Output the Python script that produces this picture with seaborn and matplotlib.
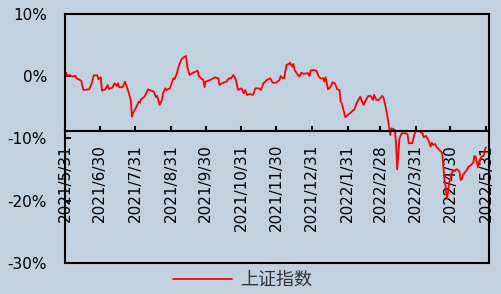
import matplotlib
matplotlib.use('Agg')
import matplotlib.pyplot as plt
import seaborn as sns
import pandas as pd

# ---------------- data ----------------
series_name = '上证指数'

dates = [
    '2021-05-31', '2021-06-01', '2021-06-02', '2021-06-04', '2021-06-07', '2021-06-09', '2021-06-10',
    '2021-06-14', '2021-06-16', '2021-06-21', '2021-06-23', '2021-06-25', '2021-06-28', '2021-06-29',
    '2021-07-01', '2021-07-02', '2021-07-05', '2021-07-07', '2021-07-08', '2021-07-11', '2021-07-13',
    '2021-07-15', '2021-07-16', '2021-07-17', '2021-07-20', '2021-07-22', '2021-07-25', '2021-07-27',
    '2021-07-28', '2021-07-29', '2021-08-01', '2021-08-03', '2021-08-04', '2021-08-05', '2021-08-08',
    '2021-08-11', '2021-08-14', '2021-08-16', '2021-08-18', '2021-08-19', '2021-08-21', '2021-08-23',
    '2021-08-24', '2021-08-26', '2021-08-27', '2021-08-30', '2021-09-02', '2021-09-03', '2021-09-05',
    '2021-09-07', '2021-09-09', '2021-09-11', '2021-09-13', '2021-09-14', '2021-09-16', '2021-09-19',
    '2021-09-23', '2021-09-24', '2021-09-26', '2021-09-28', '2021-09-29', '2021-09-30', '2021-10-04',
    '2021-10-08', '2021-10-11', '2021-10-12', '2021-10-15', '2021-10-18', '2021-10-20', '2021-10-22',
    '2021-10-24', '2021-10-26', '2021-10-28', '2021-10-31', '2021-11-02', '2021-11-03', '2021-11-05',
    '2021-11-07', '2021-11-10', '2021-11-12', '2021-11-15', '2021-11-17', '2021-11-19', '2021-11-22',
    '2021-11-25', '2021-11-27', '2021-11-30', '2021-12-03', '2021-12-04', '2021-12-06', '2021-12-07',
    '2021-12-09', '2021-12-11', '2021-12-12', '2021-12-14', '2021-12-15', '2021-12-16', '2021-12-18',
    '2021-12-20', '2021-12-22', '2021-12-24', '2021-12-26', '2021-12-28', '2021-12-29', '2021-12-30',
    '2022-01-01', '2022-01-04', '2022-01-06', '2022-01-08', '2022-01-10', '2022-01-11', '2022-01-12',
    '2022-01-14', '2022-01-16', '2022-01-18', '2022-01-20', '2022-01-22', '2022-01-24', '2022-01-25',
    '2022-01-26', '2022-01-29', '2022-02-01', '2022-02-06', '2022-02-08', '2022-02-11', '2022-02-12',
    '2022-02-14', '2022-02-15', '2022-02-18', '2022-02-20', '2022-02-22', '2022-02-23', '2022-02-25',
    '2022-02-27', '2022-03-02', '2022-03-03', '2022-03-05', '2022-03-07', '2022-03-09', '2022-03-10',
    '2022-03-12', '2022-03-13', '2022-03-14', '2022-03-15', '2022-03-17', '2022-03-19', '2022-03-22',
    '2022-03-24', '2022-03-25', '2022-03-28', '2022-03-30', '2022-03-31', '2022-04-04', '2022-04-06',
    '2022-04-07', '2022-04-09', '2022-04-11', '2022-04-13', '2022-04-14', '2022-04-15', '2022-04-17',
    '2022-04-18', '2022-04-20', '2022-04-22', '2022-04-23', '2022-04-24', '2022-04-25', '2022-04-26',
    '2022-04-27', '2022-04-28', '2022-04-29', '2022-04-30', '2022-05-01', '2022-05-03', '2022-05-06',
    '2022-05-08', '2022-05-09', '2022-05-10', '2022-05-11', '2022-05-14', '2022-05-16', '2022-05-18',
    '2022-05-20', '2022-05-21', '2022-05-22', '2022-05-24', '2022-05-25', '2022-05-27', '2022-05-29',
    '2022-05-30', '2022-05-31',
]

values = [
    0.00, 0.56, 0.03, 0.19, -0.08, 0.08, -0.34,
    -0.72, -2.22, -2.11, -1.25, 0.14, 0.14, -0.50,
    -0.18, -2.33, -2.11, -1.41, -2.06, -1.85, -1.14,
    -1.58, -1.14, -1.78, -1.78, -0.88, -2.49, -3.83,
    -6.51, -5.96, -4.90, -4.10, -4.26, -3.71, -3.30,
    -2.11, -2.33, -2.49, -3.39, -3.18, -4.63, -3.83,
    -2.75, -1.95, -2.22, -1.95, -0.34, -0.50, 0.47,
    1.80, 2.72, 3.04, 3.25, 1.53, 0.19, 0.56,
    0.88, 0.03, -0.34, -0.61, -1.78, -0.88, -0.61,
    -0.18, -0.34, -1.41, -1.05, -0.88, -0.34, -0.34,
    0.19, -0.50, -2.22, -1.95, -2.75, -2.22, -3.02,
    -2.86, -3.02, -1.95, -1.95, -2.22, -1.14, -0.61,
    -0.34, -1.05, -1.05, -0.61, 0.03, -0.34, -0.34,
    1.80, 1.96, 2.17, 1.53, 1.96, 1.00, 0.47,
    -0.08, 0.56, 0.35, 0.47, 0.47, 0.03, 0.88,
    1.00, 0.88, -0.08, -0.40, -0.34, -0.88, -0.18,
    -2.11, -1.78, -0.98, -1.14, -2.11, -2.22, -4.10,
    -4.36, -6.61, -6.13, -5.32, -4.26, -3.30, -3.83,
    -4.63, -4.10, -3.18, -3.18, -3.83, -3.02, -3.83,
    -3.83, -3.18, -3.39, -4.90, -7.04, -9.45, -8.38,
    -8.54, -8.65, -10.79, -15.00, -9.98, -9.18, -9.18,
    -9.34, -10.79, -10.79, -9.29, -8.76, -8.92, -9.18,
    -9.82, -9.61, -10.26, -11.33, -10.69, -11.06, -10.90,
    -11.33, -11.75, -12.14, -12.40, -14.55, -16.58, -17.77,
    -19.75, -18.83, -17.12, -16.69, -15.61, -15.19, -14.97,
    -15.35, -16.69, -16.58, -15.88, -15.19, -14.55, -14.28,
    -13.91, -12.83, -12.94, -14.65, -13.75, -12.94, -12.83,
    -11.86, -11.43,
]

tick_dates = ['2021-05-31', '2021-06-30', '2021-07-31', '2021-08-31', '2021-09-30',
              '2021-10-31', '2021-11-30', '2021-12-31', '2022-01-31', '2022-02-28',
              '2022-03-31', '2022-04-30', '2022-05-31']
tick_labels = ['2021/5/31', '2021/6/30', '2021/7/31', '2021/8/31', '2021/9/30',
               '2021/10/31', '2021/11/30', '2021/12/31', '2022/1/31', '2022/2/28',
               '2022/3/31', '2022/4/30', '2022/5/31']
y_ticks = [10, 0, -10, -20, -30]
y_labels = ['10%', '0%', '-10%', '-20%', '-30%']

# ---------------- style ----------------
sns.set_theme(style='white')
plt.rcParams['font.family'] = ['DejaVu Sans', 'Noto Sans CJK SC']
bg = '#C2D1E0'

W, H = 501, 294
fig = plt.figure(figsize=(W / 100, H / 100), dpi=100, facecolor=bg)
ax = fig.add_axes([65 / W, 1 - 262.7 / H, (489 - 65) / W, (262.7 - 14) / H])
ax.set_facecolor(bg)

df = pd.DataFrame({'date': pd.to_datetime(dates), 'value': values, 'series': series_name})
sns.lineplot(data=df, x='date', y='value', hue='series', palette=['#FF0000'],
             linewidth=1.3, ax=ax, legend=False, zorder=2)

ax.set_xlim(pd.Timestamp('2021-05-31'), pd.Timestamp('2021-05-31') + pd.Timedelta(days=367.6))
ax.set_ylim(-30, 10)
ax.set_xlabel('')
ax.set_ylabel('')

ax.set_yticks(y_ticks)
ax.set_yticklabels(y_labels)
ax.set_xticks(pd.to_datetime(tick_dates))
ax.set_xticklabels(tick_labels)

for s in ax.spines.values():
    s.set_visible(True)
    s.set_color('black')
    s.set_linewidth(1.5)
ax.spines['bottom'].set_position(('data', -8.76))
ax.axhline(-30, color='black', linewidth=1.5, clip_on=False, zorder=3)

ax.tick_params(axis='y', direction='in', length=4, width=1.3, pad=13,
               labelsize=11, colors='black', left=True)
ax.tick_params(axis='x', direction='in', length=3.6, width=1.5, pad=9.6,
               labelsize=11, colors='black', bottom=True, labelrotation=90)
for lab in ax.get_xticklabels():
    lab.set_rotation(90)

# legend
handle = plt.Line2D([], [], color='#FF0000', linewidth=1.3)
leg = fig.legend([handle], [series_name], loc='center',
                 bbox_to_anchor=(242.5 / W, 1 - 280 / H), frameon=False,
                 handlelength=3.27, handletextpad=0.45, borderpad=0, borderaxespad=0,
                 prop={'family': ['Noto Sans CJK SC', 'DejaVu Sans'], 'size': 13})
for t in leg.get_texts():
    t.set_color('#333333')

fig.savefig('out.png', dpi=100, facecolor=bg)
